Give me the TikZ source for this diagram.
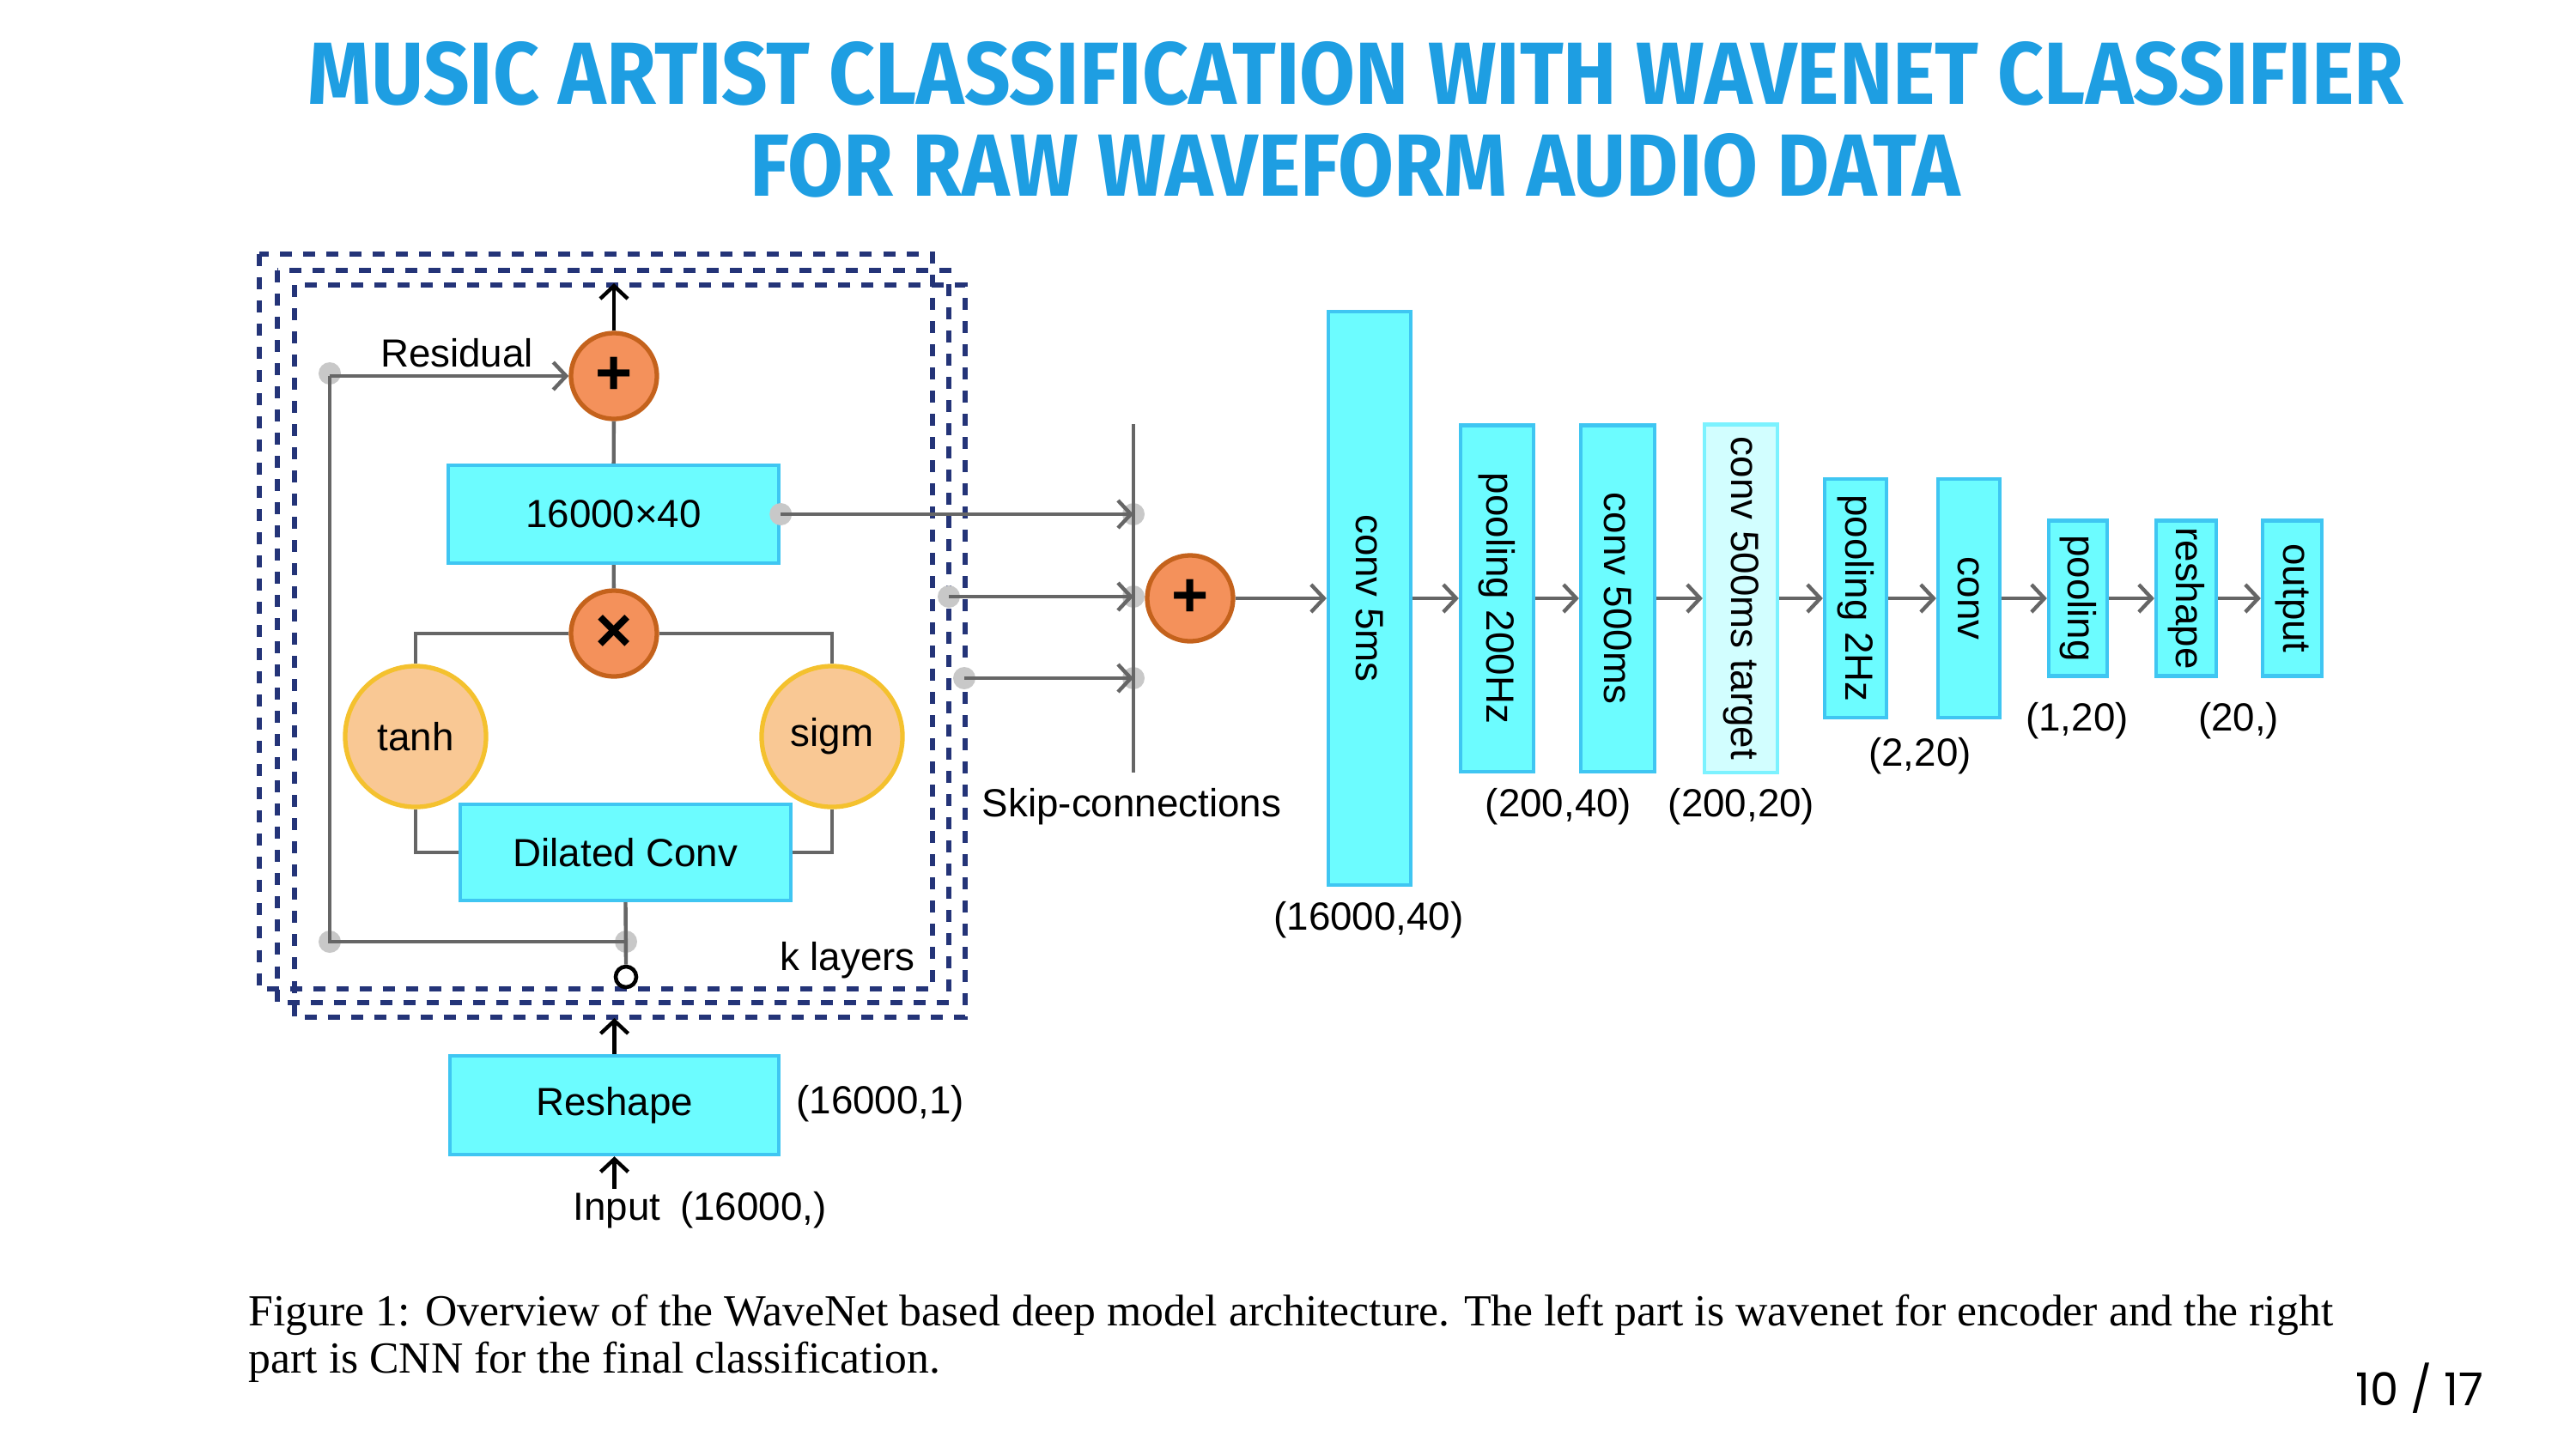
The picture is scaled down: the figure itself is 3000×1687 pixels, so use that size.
\documentclass[tikz,border=0pt]{standalone}
\usepackage{fontspec}
\usepackage{graphicx}
\setmainfont{Liberation Sans}
\newfontfamily\capfont{Liberation Serif}
\newfontfamily\titlefont{Fira Sans}
\newfontfamily\pagefont{Poppins}
\usetikzlibrary{arrows.meta, positioning, shapes.geometric}

\definecolor{boxfill}{HTML}{6CFCFF}
\definecolor{boxline}{HTML}{3FC6F2}
\definecolor{palefill}{HTML}{D2FEFF}
\definecolor{paleline}{HTML}{7CF2FF}
\definecolor{opfill}{HTML}{F4915B}
\definecolor{opline}{HTML}{C4621C}
\definecolor{actfill}{HTML}{F9C894}
\definecolor{actline}{HTML}{F4C12E}
\definecolor{wirec}{HTML}{666666}
\definecolor{dotc}{HTML}{C8C8C8}
\definecolor{navy}{HTML}{243478}
\definecolor{titleblue}{HTML}{1E9EE2}

\tikzset{
    wire/.style={draw=wirec, line width=1.25pt, >={Straight Barb[length=0.15cm, width=0.32cm]}},
    blk/.style={draw=black, line width=1.25pt, >={Straight Barb[length=0.15cm, width=0.32cm]}},
    layer/.style={draw=boxline, fill=boxfill, line width=1.2pt, inner sep=0pt},
    cnn/.style={layer, rotate=-90},
    opnode/.style={circle, draw=opline, fill=opfill, line width=1.5pt, minimum size=1.0cm, inner sep=0pt, font=\fontsize{21}{21}\selectfont\bfseries},
    actnode/.style={circle, draw=actline, fill=actfill, line width=1.5pt, minimum size=1.64cm, inner sep=0pt},
    kbox/.style={draw=navy, line width=1.6pt, dash pattern=on 0.14cm off 0.13cm},
    tap/.style={fill=dotc}
}

\begin{document}
\begin{tikzpicture}[x=0.01cm, y=-0.01cm, every node/.style={font=\fontsize{13}{15.6}\selectfont}]
    \useasboundingbox (0,0) rectangle (3000,1687);

    % Title
    \node[inner sep=0pt, text=titleblue] (title1) at (1579,86)
        {\resizebox{24.39cm}{0.73cm}{\titlefont\bfseries MUSIC ARTIST CLASSIFICATION WITH WAVENET CLASSIFIER}};
    \node[inner sep=0pt, text=titleblue] (title2) at (1578,193)
        {\resizebox{14.08cm}{0.73cm}{\titlefont\bfseries FOR RAW WAVEFORM AUDIO DATA}};

    % k layers frames
    \draw[kbox] (302,296) rectangle (1086,1152);
    \draw[kbox] (323,315) rectangle (1105,1168);
    \draw[kbox] (343,332) rectangle (1124,1185);

    % WaveNet layer
    \node[opnode] (res) at (715,438) {+};
    \node[layer, minimum width=3.85cm, minimum height=1.14cm] (hid) at (714.5,599) {16000×40};
    \node[opnode] (mix) at (715,738) {×};
    \node[actnode] (tanh) at (484,858) {tanh};
    \node[actnode] (sigm) at (969,858) {sigm};
    \node[layer, minimum width=3.85cm, minimum height=1.12cm] (dil) at (728.5,993) {Dilated Conv};
    \node[circle, draw=black, line width=1.3pt, minimum size=0.24cm, inner sep=0pt] (ring) at (729,1138) {};
    \node (reslbl) at (532,411) {Residual};
    \node (klbl) at (987,1119) {k layers};

    \coordinate (rtop) at (384,435);
    \coordinate (rbot) at (384,1097);
    \coordinate (join) at (729,1097);
    \coordinate (out) at (715,330);

    \fill[tap] (rtop) circle (0.13cm);
    \fill[tap] (rbot) circle (0.13cm);
    \fill[tap] (join) circle (0.13cm);
    \draw[wire] (res) -- (hid);
    \draw[wire] (hid) -- (mix);
    \draw[wire] (mix.west) -| (tanh.north);
    \draw[wire] (mix.east) -| (sigm.north);
    \draw[wire] (tanh.south) |- (dil.west);
    \draw[wire] (sigm.south) |- (dil.east);
    \draw[wire] (dil.south) -- (ring.north);
    \draw[wire] (res.west -| rtop) -- (rbot) -- (join);
    \draw[wire, ->] (res.west -| rtop) -- (res.west);
    \draw[blk, ->] (res.north) -- (out);

    % input
    \node[layer, minimum width=3.83cm, minimum height=1.15cm] (resh) at (715.5,1287.5) {Reshape};
    \node[anchor=west] (reshlbl) at (915,1286) {(16000,1)};
    \node[inner sep=1pt] (inp) at (815,1410) {Input\enspace(16000,)};
    \coordinate (kin) at (715.5,1186);
    \draw[blk, ->] (resh.north) -- (kin);
    \draw[blk, ->] (resh.south |- inp.north) -- (resh.south);

    % skip connections
    \coordinate (bar1) at (1320,494);
    \coordinate (bar2) at (1320,900);
    \coordinate (s2) at (1105,695);
    \coordinate (s3) at (1123,790);
    \fill[tap] (hid.east) circle (0.13cm);
    \fill[tap] (s2) circle (0.13cm);
    \fill[tap] (s3) circle (0.13cm);
    \fill[tap] (hid.east -| bar1) circle (0.13cm);
    \fill[tap] (s2 -| bar1) circle (0.13cm);
    \fill[tap] (s3 -| bar1) circle (0.13cm);
    \draw[wire] (bar1) -- (bar2);
    \draw[wire, ->] (hid.east) -- (hid.east -| bar1);
    \draw[wire, ->] (s2) -- (s2 -| bar1);
    \draw[wire, ->] (s3) -- (s3 -| bar1);
    \node (skiplbl) at (1318,940) {Skip-connections};
    \node[opnode] (sum) at (1386,697) {+};

    % CNN classifier
    \node[cnn, minimum width=6.68cm, minimum height=0.96cm] (conv5) at (1595,697) {conv 5ms};
    \node[cnn, minimum width=4.03cm, minimum height=0.85cm] (pool200) at (1743.5,697) {pooling 200Hz};
    \node[cnn, minimum width=4.03cm, minimum height=0.86cm] (conv500) at (1884,697) {conv 500ms};
    \node[cnn, draw=paleline, fill=palefill, minimum width=4.05cm, minimum height=0.85cm] (target) at (2027.5,697) {conv 500ms target};
    \node[cnn, minimum width=2.78cm, minimum height=0.72cm] (pool2) at (2161,697) {pooling 2Hz};
    \node[cnn, minimum width=2.78cm, minimum height=0.72cm] (conv) at (2293,697) {conv};
    \node[cnn, minimum width=1.81cm, minimum height=0.68cm] (pool) at (2420,697) {pooling};
    \node[cnn, minimum width=1.81cm, minimum height=0.70cm] (reshp) at (2546,697) {reshape};
    \node[cnn, minimum width=1.81cm, minimum height=0.69cm] (outp) at (2669.5,697) {output};

    \draw[wire, ->] (sum) -- (conv5);
    \foreach \a/\b in {conv5/pool200, pool200/conv500, conv500/target, target/pool2,
                       pool2/conv, conv/pool, pool/reshp, reshp/outp}
        \draw[wire, ->] (\a) -- (\b);

    \node (shape1) at (1594,1072) {(16000,40)};
    \node (shape2) at (1815,940) {(200,40)};
    \node (shape3) at (2028,940) {(200,20)};
    \node (shape4) at (2236,881) {(2,20)};
    \node (shape5) at (2419,840) {(1,20)};
    \node (shape6) at (2607,840) {(20,)};

    % caption
    \node[anchor=base west, inner sep=0pt, font=\capfont\fontsize{14.7}{17}\selectfont] (cap1) at (289,1544)
        {Figure 1: Overview of the WaveNet based deep model architecture. The left part is wavenet for encoder and the right};
    \node[anchor=base west, inner sep=0pt, font=\capfont\fontsize{14.7}{17}\selectfont] (cap2) at (289,1599)
        {part is CNN for the final classification.};

    % page number
    \node[font=\pagefont\fontsize{15}{17}\selectfont] (page) at (2818,1617) {10 / 17};
\end{tikzpicture}
\end{document}
